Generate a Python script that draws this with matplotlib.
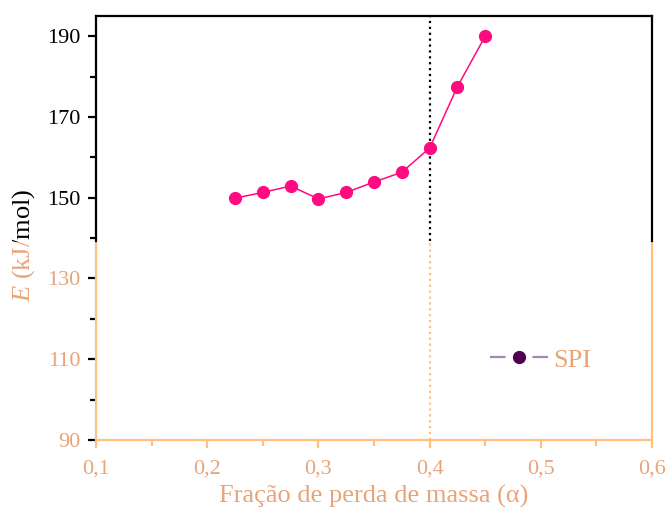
import matplotlib
matplotlib.use("Agg")
import matplotlib.pyplot as plt
from matplotlib.lines import Line2D
from matplotlib.legend_handler import HandlerTuple
from matplotlib.ticker import MultipleLocator, FixedLocator
from matplotlib.transforms import Bbox, TransformedBbox

plt.rcParams['font.family'] = ['Liberation Serif', 'DejaVu Serif']
plt.rcParams['mathtext.fontset'] = 'custom'
plt.rcParams['mathtext.it'] = 'Liberation Serif:italic'
plt.rcParams['mathtext.rm'] = 'Liberation Serif'

alpha = [0.225, 0.25, 0.275, 0.3, 0.325, 0.35, 0.375, 0.4, 0.425, 0.45]
energia = [149.9, 151.3, 152.9, 149.7, 151.3, 153.9, 156.3, 162.3, 177.5, 190.0]
x_ticks = [0.1, 0.2, 0.3, 0.4, 0.5, 0.6]
x_labels = ['0,1', '0,2', '0,3', '0,4', '0,5', '0,6']
y_ticks = [90, 110, 130, 150, 170, 190]
y_minor = [100, 120, 140, 160, 180]
alpha_corte = 0.4

preto = 'black'
laranja = '#ffc080'
laranja_txt = '#e8a47a'
rosa = '#ff0a80'
corte = 139.4   # onde a cor muda (em unidades de y)

fig = plt.figure(figsize=(6.67, 5.17), dpi=100)
ax = fig.add_axes([0.144, 0.149, 0.8335, 0.82])

ax.plot(alpha, energia, '-o', color=rosa, lw=1.1, ms=8.5, zorder=3)

# linha vertical pontilhada (duas cores)
ax.plot([alpha_corte, alpha_corte], [corte, 195], ':', color=preto, lw=1.6, zorder=2)
ax.plot([alpha_corte, alpha_corte], [90, corte], ':', color=laranja, lw=1.6, zorder=2)

ax.set_xlim(0.1, 0.6)
ax.set_ylim(90, 195)

# spines
ax.spines['top'].set_color(preto)
ax.spines['bottom'].set_color(laranja)
for lado in ['left', 'right']:
    ax.spines[lado].set_bounds(corte, 195)
    ax.spines[lado].set_color(preto)
for s in ax.spines.values():
    s.set_linewidth(1.6)
ax.plot([0.1, 0.1], [90, corte], color=laranja, lw=1.6, clip_on=False, solid_capstyle='butt')
ax.plot([0.6, 0.6], [90, corte], color=laranja, lw=1.6, clip_on=False, solid_capstyle='butt')

ax.xaxis.set_major_locator(FixedLocator(x_ticks))
ax.set_xticklabels(x_labels)
ax.xaxis.set_minor_locator(MultipleLocator(0.05))
ax.yaxis.set_major_locator(FixedLocator(y_ticks))
ax.yaxis.set_minor_locator(FixedLocator(y_minor))

ax.tick_params(which='major', direction='out', length=6, width=1.6, labelsize=16, pad=5)
ax.tick_params(which='minor', direction='out', length=4, width=1.6)
ax.tick_params(axis='x', which='major', pad=8)
ax.tick_params(axis='x', which='both', color=laranja, labelcolor=laranja_txt)

fig.canvas.draw()
for v, t in zip(y_ticks, ax.yaxis.get_major_ticks()):
    t.tick1line.set_color(preto if v > corte else laranja)
    t.label1.set_color(preto if v > corte else laranja_txt)
for v, t in zip(y_minor, ax.yaxis.get_minor_ticks()):
    t.tick1line.set_color(preto if v > corte else laranja)

ax.set_xlabel('Fração de perda de massa (α)', fontsize=19, color=laranja_txt, labelpad=5)

# rótulo y em duas cores
y_split = 1 - 242 / 517
for cor, ext in [(preto, (0, y_split, 1, 1)), (laranja_txt, (0, 0, 1, y_split))]:
    t = fig.text(0.036, 0.526, '$E$ (kJ/mol)', rotation=90, ha='center', va='center',
                 fontsize=19, color=cor)
    t.set_clip_box(TransformedBbox(Bbox.from_extents(*ext), fig.transFigure))
    t.set_clip_on(True)

# legenda estilo Origin: linha com falha em volta do marcador
linha = Line2D([0], [0], color='#a585b5', lw=1.6, dashes=(7.0, 12.1))
ponto = Line2D([0], [0], ls='none', marker='o', ms=8.5, mfc='#50004f', mec='#50004f')
ax.legend([(linha, ponto)], ['SPI'], frameon=False, loc='center', fontsize=19,
          bbox_to_anchor=(0.81, 0.304), bbox_transform=fig.transFigure,
          handlelength=2.2, handletextpad=0.2, labelcolor=laranja_txt,
          handler_map={tuple: HandlerTuple(ndivide=1)})

fig.savefig('out.png', dpi=100)
